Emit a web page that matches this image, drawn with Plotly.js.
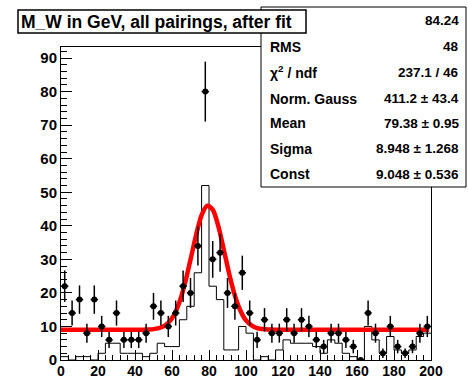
<!DOCTYPE html>
<html>
<head>
<meta charset="utf-8">
<script src="https://cdn.plot.ly/plotly-3.0.1.min.js"></script>
<style>html,body{margin:0;padding:0;background:#fff;}#chart{width:468px;height:380px;}</style>
</head>
<body>
<div id="chart"></div>
<script>
// ---- data ----
const binCenters = [2,6,10,14,18,22,26,30,34,38,42,46,50,54,58,62,66,70,74,78,82,86,90,94,98,102,106,110,114,118,122,126,130,134,138,142,146,150,154,158,162,166,170,174,178,182,186,190,194,198];
const binHalfWidth = 2;
const dataCounts = [22,14,18,8,18, 10,6,14,6,6, 6,8,16,14,10, 14,22,20,34,80, 30,32,20,16,26, 14,6,12,8,8, 12,8,12,10,6, 4,8,8,6,4, 0,14,8,2,10, 4,2,4,8,10];
const dataErrors = [4.69,3.74,4.24,2.83,4.24, 3.16,2.45,3.74,2.45,2.45, 2.45,2.83,4,3.74,3.16, 3.74,4.69,4.47,5.83,8.94, 5.48,5.66,4.47,4,5.10, 3.74,2.45,3.46,2.83,2.83, 3.46,2.83,3.46,3.16,2.45, 2,2.83,2.83,2.45,2, 0,3.74,2.83,1.41,3.16, 2,1.41,2,2.83,3.16];
const stepCounts = [1,0,1,1,0, 2,5,5,2,2, 2,1,2,5,4, 4,12,16,26,52, 22,18,3,3,10, 8,0,1,0,3, 6,5,5,5,4, 2,6,5,2,1, 0,10,6,2,7, 3,2,3,7,8];
const fitX = [0,10,20,30,40,45,50,55,58,61,64,67,70,73,76,79,82,85,88,91,94,97,100,103,106,110,115,120,140,160,180,199];
const fitY = [9.05,9.05,9.05,9.05,9.05,9.05,9.2,9.9,11.1,13.3,17.2,22.8,29.9,37.2,43.2,46.0,44.8,40.0,32.9,25.5,19.2,14.7,11.8,10.3,9.5,9.15,9.05,9.05,9.05,9.05,9.05,9.05];
const titleText = "M_W in GeV, all pairings, after fit";
const statLabels = ["", "RMS", "χ<sup>2</sup> / ndf", "Norm. Gauss", "Mean", "Sigma", "Const"];
const statValues = ["84.24", "48", "237.1 / 46", "411.2 ± 43.4", "79.38 ± 0.95", "8.948 ± 1.268", "9.048 ± 0.536"];

// step outline built from bins
const stepX = [], stepY = [];
binCenters.forEach((c, i) => { stepX.push(c - binHalfWidth); stepY.push(stepCounts[i]); });
stepX.push(binCenters[binCenters.length - 1] + binHalfWidth);
stepY.push(stepCounts[stepCounts.length - 1]);

const traces = [
  {x: stepX, y: stepY, type: 'scatter', mode: 'lines', line: {shape: 'hv', color: '#000', width: 1}, hoverinfo: 'skip'},
  {x: fitX, y: fitY, type: 'scatter', mode: 'lines', line: {shape: 'spline', smoothing: 0.8, color: '#ff0000', width: 4.5}},
  {x: binCenters, y: dataCounts, type: 'scatter', mode: 'markers',
   marker: {symbol: 'circle', size: 6, color: '#000'},
   error_y: {type: 'data', array: dataErrors, visible: true, color: '#000', thickness: 1.5, width: 0},
   error_x: {type: 'constant', value: binHalfWidth, visible: true, color: '#000', thickness: 1.5, width: 0}}
];

// frame geometry in pixels
const L = 61, R = 431, T = 47, B = 360;
const W = 468, H = 380;
const px2x = p => (p - L) / (R - L);
const py2y = p => (B - p) / (B - T);

const shapes = [
  {type: 'rect', xref: 'paper', yref: 'paper', x0: px2x(261), x1: px2x(466), y0: py2y(187), y1: py2y(7), line: {color: '#000', width: 1}, fillcolor: '#fff', layer: 'above'},
  {type: 'rect', xref: 'paper', yref: 'paper', x0: px2x(18), x1: px2x(306), y0: py2y(33), y1: py2y(10), line: {color: '#000', width: 1.5}, fillcolor: '#fff', layer: 'above'}
];

const fontB = (s) => ({family: 'Liberation Sans, Arial, sans-serif', size: s, color: '#000', weight: 'bold'});
const annotations = [
  {xref: 'paper', yref: 'paper', x: px2x(19), y: py2y(21.5), xanchor: 'left', yanchor: 'middle', text: titleText, showarrow: false, font: fontB(17.5)}
];
const rowY = [20, 46.5, 72, 98.5, 123, 148.5, 174];
statLabels.forEach((lab, i) => {
  if (lab) annotations.push({xref: 'paper', yref: 'paper', x: px2x(268), y: py2y(rowY[i]), xanchor: 'left', yanchor: 'middle', text: lab, showarrow: false, font: fontB(14)});
  annotations.push({xref: 'paper', yref: 'paper', x: px2x(461), y: py2y(rowY[i]), xanchor: 'right', yanchor: 'middle', text: statValues[i], showarrow: false, font: fontB(13.5)});
});

const layout = {
  width: W, height: H,
  margin: {l: L, r: W - R, t: T, b: H - B, pad: 0},
  paper_bgcolor: '#fff', plot_bgcolor: '#fff',
  showlegend: false,
  xaxis: {range: [0, 200], tick0: 0, dtick: 20, ticks: 'inside', ticklen: 10, tickwidth: 1, tickcolor: '#000',
          minor: {dtick: 4, ticks: 'inside', ticklen: 5, tickwidth: 1, tickcolor: '#000'},
          showline: true, linecolor: '#000', linewidth: 1, mirror: true, showgrid: false, zeroline: false,
          tickfont: fontB(14), ticklabelstandoff: -2},
  yaxis: {range: [0, 93.3], tick0: 0, dtick: 10, ticks: 'inside', ticklen: 11, tickwidth: 1, tickcolor: '#000',
          minor: {dtick: 2, ticks: 'inside', ticklen: 6, tickwidth: 1, tickcolor: '#000'},
          showline: true, linecolor: '#000', linewidth: 1, mirror: true, showgrid: false, zeroline: false,
          tickfont: fontB(15), ticklabelstandoff: 0},
  shapes: shapes,
  annotations: annotations
};

Plotly.newPlot('chart', traces, layout, {staticPlot: true, displayModeBar: false});
</script>
</body>
</html>
